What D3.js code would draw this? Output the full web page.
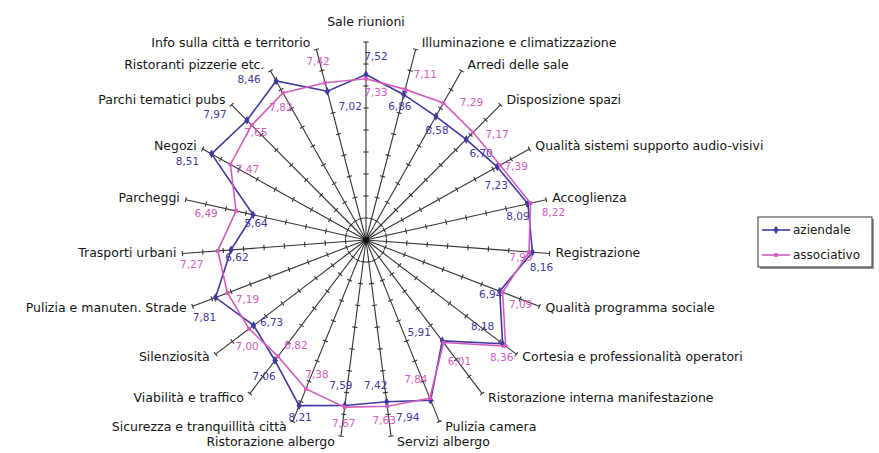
<!DOCTYPE html>
<html>
<head>
<meta charset="utf-8">
<script src="https://cdn.jsdelivr.net/npm/d3@7"></script>
<style>
  html, body { margin: 0; padding: 0; background: #fff; }
  svg { display: block; }
  text { font-family: "DejaVu Sans", Verdana, sans-serif; }
</style>
</head>
<body>
<svg id="chart" width="879" height="453"></svg>
<script>
// Categories, clockwise from the top spoke
const categories = [
  "Sale riunioni",
  "Illuminazione e climatizzazione",
  "Arredi delle sale",
  "Disposizione spazi",
  "Qualità sistemi supporto audio-visivi",
  "Accoglienza",
  "Registrazione",
  "Qualità programma sociale",
  "Cortesia e professionalità operatori",
  "Ristorazione interna manifestazione",
  "Pulizia camera",
  "Servizi albergo",
  "Ristorazione albergo",
  "Sicurezza e tranquillità città",
  "Viabilità e traffico",
  "Silenziosità",
  "Pulizia e manuten. Strade",
  "Trasporti urbani",
  "Parcheggi",
  "Negozi",
  "Parchi tematici pubs",
  "Ristoranti pizzerie etc.",
  "Info sulla città e territorio"
];

const aziendale = [7.52, 6.86, 6.58, 6.70, 7.23, 8.09, 8.16, 6.94, 8.18, 5.91, 7.94, 7.42,
                   7.59, 8.21, 7.06, 6.73, 7.81, 6.62, 5.64, 8.51, 7.97, 8.46, 7.02];
const associativo = [7.33, 7.11, 7.29, 7.17, 7.39, 8.22, 7.99, 7.09, 8.36, 6.01, 7.84, 7.63,
                     7.67, 7.38, 6.82, 7.00, 7.19, 7.27, 6.49, 7.47, 7.65, 7.82, 7.42];

const seriesNames = ["aziendale", "associativo"];
const axisTicks = [1, 2, 3, 4, 5, 6, 7, 8, 9];
const axisMax = 9;

// ---- layout ----
const cx = 366, cy = 240;
const colors = { aziendale: "#3f3a9e", associativo: "#d45cbf" };

// value-label offsets from each point, [dx, dy] in px
const labelOffsets = {
  aziendale: [[10,-18],[-4,12],[1,15],[15,15],[-1,19],[-10,13],[9,16],[-9,4],[-20,-17],[-23,-8],
              [-23,18],[-11,-16],[-4,-19],[1,12],[-11,17],[18,-2],[-11,20],[6,8],[3,9],[-24,8],
              [-32,-5],[-27,-1],[23,16]],
  associativo: [[10,14],[20,-14],[28,0],[24,3],[16,2],[23,10],[-8,6],[18,13],[-4,12],[16,19],
                [-14,-18],[-3,15],[-1,17],[11,-14],[18,-10],[-2,18],[20,7],[-26,14],[-30,3],[17,6],
                [4,8],[-2,15],[-7,-21]]
};

const n = categories.length;
const angle = d3.scaleLinear().domain([0, n]).range([0, 2 * Math.PI]);
const rX = d3.scaleLinear().domain([0, axisMax]).range([0, 184]);
const rY = d3.scaleLinear().domain([0, axisMax]).range([0, 198]);

function pos(i, v) {
  const a = angle(i);
  return [cx + rX(v) * Math.sin(a), cy - rY(v) * Math.cos(a)];
}

const svg = d3.select("#chart");
const fmt = v => d3.format(".2f")(v).replace(".", ",");

// spokes
const axes = svg.append("g").attr("class", "axes");
categories.forEach((c, i) => {
  const [x2, y2] = pos(i, axisMax);
  axes.append("line")
    .attr("x1", cx).attr("y1", cy).attr("x2", x2).attr("y2", y2)
    .attr("stroke", "#333").attr("stroke-width", 1.1);
  // tick marks across the spoke at every unit
  const a = angle(i);
  const dx = rX(1) * Math.sin(a), dy = -rY(1) * Math.cos(a);
  const len = Math.hypot(dx, dy);
  const px = -dy / len, py = dx / len;
  axisTicks.forEach(t => {
    const [tx, ty] = pos(i, t);
    axes.append("line")
      .attr("x1", tx - px * 2.6).attr("y1", ty - py * 2.6)
      .attr("x2", tx + px * 2.6).attr("y2", ty + py * 2.6)
      .attr("stroke", "#333").attr("stroke-width", 1.1);
  });
});
axes.append("circle").attr("cx", cx).attr("cy", cy).attr("r", 3).attr("fill", "#111");

// category labels
const catG = svg.append("g").attr("font-size", 12.5).attr("fill", "#151515");
categories.forEach((c, i) => {
  const a = angle(i);
  const [ex, ey] = pos(i, axisMax);
  const s = Math.sin(a), co = Math.cos(a);
  let anchor = "middle", x = ex, y = ey - 20;
  if (Math.abs(s) > 0.01) {
    anchor = s > 0 ? "start" : "end";
    x = ex + (s > 0 ? 6 : -6);
    y = ey - 6 * co;
  }
  catG.append("text")
    .attr("x", x).attr("y", y)
    .attr("text-anchor", anchor)
    .attr("dominant-baseline", "middle")
    .text(c);
});

// series lines, markers and value labels
const line = d3.line().curve(d3.curveLinearClosed);
const data = { aziendale, associativo };
seriesNames.forEach(name => {
  const vals = data[name];
  const pts = vals.map((v, i) => pos(i, v));
  svg.append("path")
    .attr("d", line(pts))
    .attr("fill", "none")
    .attr("stroke", colors[name])
    .attr("stroke-width", 1.6);
  const sym = d3.symbol().type(name === "aziendale" ? d3.symbolDiamond : d3.symbolSquare)
    .size(name === "aziendale" ? 22 : 14);
  svg.append("g").selectAll("path").data(pts).join("path")
    .attr("d", sym)
    .attr("transform", d => `translate(${d[0]},${d[1]})`)
    .attr("fill", colors[name]);
  svg.append("g").attr("font-size", 10.5).attr("fill", colors[name])
    .selectAll("text").data(vals).join("text")
    .attr("x", (v, i) => pts[i][0] + labelOffsets[name][i][0])
    .attr("y", (v, i) => pts[i][1] + labelOffsets[name][i][1])
    .attr("text-anchor", "middle")
    .attr("dominant-baseline", "middle")
    .text(v => fmt(v));
});

// legend
const lg = svg.append("g").attr("transform", "translate(758,217)");
lg.append("rect").attr("x", 2).attr("y", 2).attr("width", 114).attr("height", 50).attr("fill", "#9a9a9a");
lg.append("rect").attr("width", 114).attr("height", 50).attr("fill", "#fff")
  .attr("stroke", "#333").attr("stroke-width", 1);
seriesNames.forEach((name, k) => {
  const y = 13 + k * 25;
  lg.append("line").attr("x1", 4).attr("x2", 32).attr("y1", y).attr("y2", y)
    .attr("stroke", colors[name]).attr("stroke-width", 1.6);
  lg.append("path")
    .attr("d", d3.symbol().type(k === 0 ? d3.symbolDiamond : d3.symbolSquare).size(k === 0 ? 22 : 14))
    .attr("transform", `translate(18,${y})`).attr("fill", colors[name]);
  lg.append("text").attr("x", 35).attr("y", y).attr("dominant-baseline", "middle")
    .attr("font-size", 12).attr("fill", "#151515").text(name);
});
</script>
</body>
</html>
